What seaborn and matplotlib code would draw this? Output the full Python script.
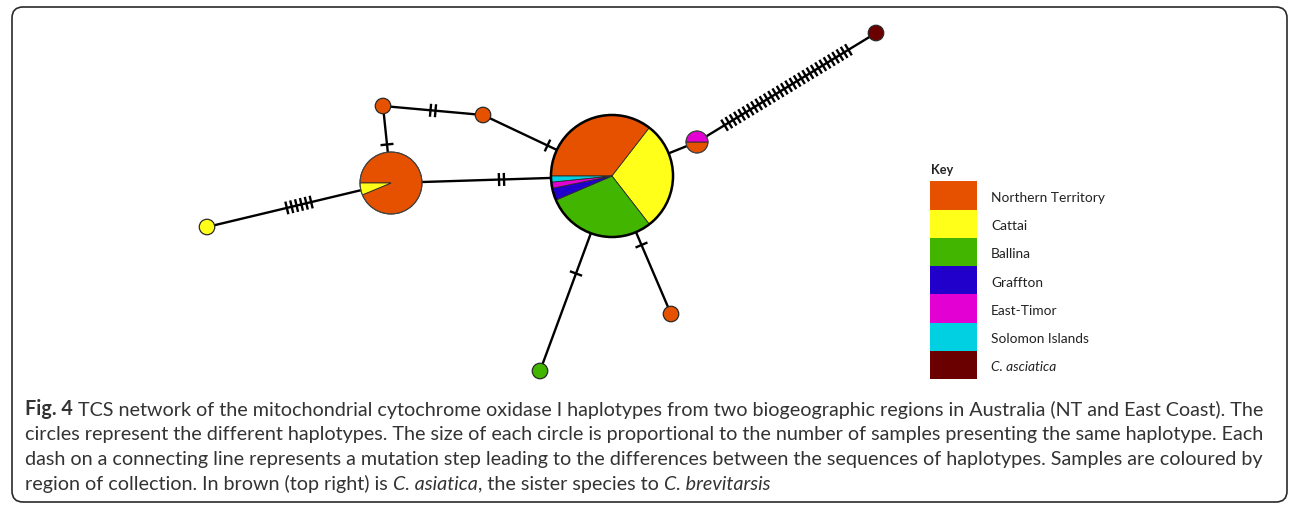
import numpy as np
import pandas as pd
import matplotlib
matplotlib.use("Agg")
import matplotlib.pyplot as plt
import seaborn as sns
from matplotlib.patches import Wedge, Circle, Rectangle, FancyBboxPatch
from matplotlib.collections import LineCollection

# ---------------- data ----------------
regions = ["Northern Territory", "Cattai", "Ballina", "Graffton",
           "East-Timor", "Solomon Islands", "C. asciatica"]
region_colors = ["#E65100", "#FFFF1A", "#41B500", "#2200CC",
                 "#E200D2", "#00D0E2", "#6B0000"]

# haplotype nodes (network layout positions, y measured from top)
node_ids = ["H1", "H2", "H3", "H4", "H5", "H6", "H7", "H8", "H9"]
node_x = [612, 391, 383, 483, 207, 697, 876, 671, 540]
node_y = [177, 184, 107, 116, 228, 143, 34, 315, 372]

# number of samples per region in each haplotype
nt_counts       = [22, 15, 1, 1, 0, 1, 0, 1, 0]
cattai_counts   = [18, 1, 0, 0, 1, 0, 0, 0, 0]
ballina_counts  = [18, 0, 0, 0, 0, 0, 0, 0, 1]
graffton_counts = [2, 0, 0, 0, 0, 0, 0, 0, 0]
etimor_counts   = [1, 0, 0, 0, 0, 1, 0, 0, 0]
solomon_counts  = [1, 0, 0, 0, 0, 0, 0, 0, 0]
asiatica_counts = [0, 0, 0, 0, 0, 0, 1, 0, 0]

# network edges and number of mutation steps on each
edge_from  = ["H2", "H3", "H4", "H2", "H2", "H1", "H6", "H1", "H1"]
edge_to    = ["H3", "H4", "H1", "H1", "H5", "H6", "H7", "H8", "H9"]
edge_steps = [1, 2, 1, 2, 6, 0, 30, 1, 1]

legend_title = "Key"
caption_lines = [
    [("Fig. 4", "bold"), (" TCS network of the mitochondrial cytochrome oxidase I haplotypes from two biogeographic regions in Australia (NT and East Coast). The", "normal")],
    [("circles represent the different haplotypes. The size of each circle is proportional to the number of samples presenting the same haplotype. Each", "normal")],
    [("dash on a connecting line represents a mutation step leading to the differences between the sequences of haplotypes. Samples are coloured by", "normal")],
    [("region of collection. In brown (top right) is ", "normal"), ("C. asiatica", "italic"),
     (", the sister species to ", "normal"), ("C. brevitarsis", "italic")],
]

# ---------------- styling ----------------
sns.set_theme(style="white")
plt.rcParams["font.family"] = ["Lato", "DejaVu Sans"]
palette = sns.color_palette(region_colors)
TEXT_COL = "#333333"

W, H = 1290, 506
fig = plt.figure(figsize=(W / 100, H / 100), dpi=100)
ax = fig.add_axes([0, 0, 1, 1])

pos = {n: (x, y) for n, x, y in zip(node_ids, node_x, node_y)}
counts = np.array([nt_counts, cattai_counts, ballina_counts, graffton_counts,
                   etimor_counts, solomon_counts, asiatica_counts]).T
R_SCALE = 7.75
start_angle = {nid: 180 for nid in node_ids}
start_angle["H6"] = 0

# ---- edges (seaborn lineplot, one unit per edge) ----
rows = []
for i, (a, b) in enumerate(zip(edge_from, edge_to)):
    rows.append(dict(edge=i, x=pos[a][0], y=pos[a][1], k=0))
    rows.append(dict(edge=i, x=pos[b][0], y=pos[b][1], k=1))
edf = pd.DataFrame(rows)
sns.lineplot(data=edf, x="x", y="y", units="edge", estimator=None, sort=False,
             color="black", linewidth=1.7, ax=ax, legend=False, zorder=1)

# ---- mutation step ticks ----
SPACING, TICK_LEN = 5.0, 13.0
segs = []
for a, b, k in zip(edge_from, edge_to, edge_steps):
    if k == 0:
        continue
    p0, p1 = np.array(pos[a], float), np.array(pos[b], float)
    u = (p1 - p0) / np.linalg.norm(p1 - p0)
    nrm = np.array([-u[1], u[0]])
    mid = (p0 + p1) / 2
    for j in range(k):
        c = mid + (j - (k - 1) / 2) * SPACING * u
        segs.append([c - nrm * TICK_LEN / 2, c + nrm * TICK_LEN / 2])
ax.add_collection(LineCollection(segs, colors="black", linewidths=1.7, zorder=2))

# ---- haplotype nodes ----
for i, nid in enumerate(node_ids):
    cx, cy = pos[nid]
    total = counts[i].sum()
    r = R_SCALE * np.sqrt(total)
    big = total > 30
    present = [j for j in range(len(regions)) if counts[i, j] > 0]
    if len(present) == 1:
        ax.add_patch(Circle((cx, cy), r, facecolor=palette[present[0]],
                            edgecolor="#2a2a2a", lw=0.9, zorder=3))
    else:
        th = start_angle[nid]
        for j in present:
            ext = 360 * counts[i, j] / total
            ax.add_patch(Wedge((cx, cy), r, th, th + ext, facecolor=palette[j],
                               edgecolor="#2a2a2a", lw=0.6, zorder=3))
            th += ext
        ax.add_patch(Circle((cx, cy), r, facecolor="none", edgecolor="black" if big else "#444444",
                            lw=1.8 if big else 0.8, zorder=4))

# ---- key ----
kx, ky0, kw, kh = 930, 182.3, 47, 28.25
ax.text(kx + 1, 174, legend_title, fontsize=9.2, fontweight="bold", color="#222222",
        ha="left", va="baseline")
label_texts = []
for j, name in enumerate(regions):
    y0 = ky0 + j * kh
    ax.add_patch(Rectangle((kx, y0), kw, kh, facecolor=palette[j], edgecolor="none", zorder=3))
    t = ax.text(991, y0 + kh / 2 + 1.5, name, fontsize=9.5, color="#222222",
                ha="left", va="center", style="italic" if name.startswith("C.") else "normal")
    label_texts.append(t)

# ---- frame ----
ax.add_patch(FancyBboxPatch((12, 8), 1275, 495, boxstyle="round,pad=0,rounding_size=11",
                            facecolor="none", edgecolor="#2a2a2a", lw=1.2, zorder=0))

# ---- caption ----
baselines = [415, 440.5, 465.5, 490.5]
cap_texts = []
line1_parts = []
for li, (line, yb) in enumerate(zip(caption_lines, baselines)):
    prev = None
    for seg, sty in line:
        kw = dict(fontsize=12, color=TEXT_COL,
                  fontweight="bold" if sty == "bold" else "normal",
                  fontstyle="italic" if sty == "italic" else "normal")
        if prev is None:
            t = ax.text(25, yb, seg, ha="left", va="baseline", **kw)
        else:
            t = ax.annotate(seg, xy=(1, 0), xycoords=prev, ha="left", va="bottom", **kw)
        cap_texts.append(t)
        if li == 0:
            line1_parts.append(t)
        prev = t

ax.set_xlim(0, W)
ax.set_ylim(H, 0)
ax.axis("off")

# fit caption size to the reference line width
fig.canvas.draw()
rend = fig.canvas.get_renderer()
x_left = line1_parts[0].get_window_extent(rend).x0
x_right = line1_parts[-1].get_window_extent(rend).x1
scale = (1263 - 25) / (x_right - x_left)
for t in cap_texts:
    t.set_fontsize(12 * scale)
# fit legend label size
wNT = label_texts[0].get_window_extent(rend).width
for t in label_texts:
    t.set_fontsize(9.5 * 113 / wNT)

fig.savefig("out.png", dpi=100, facecolor="white")
